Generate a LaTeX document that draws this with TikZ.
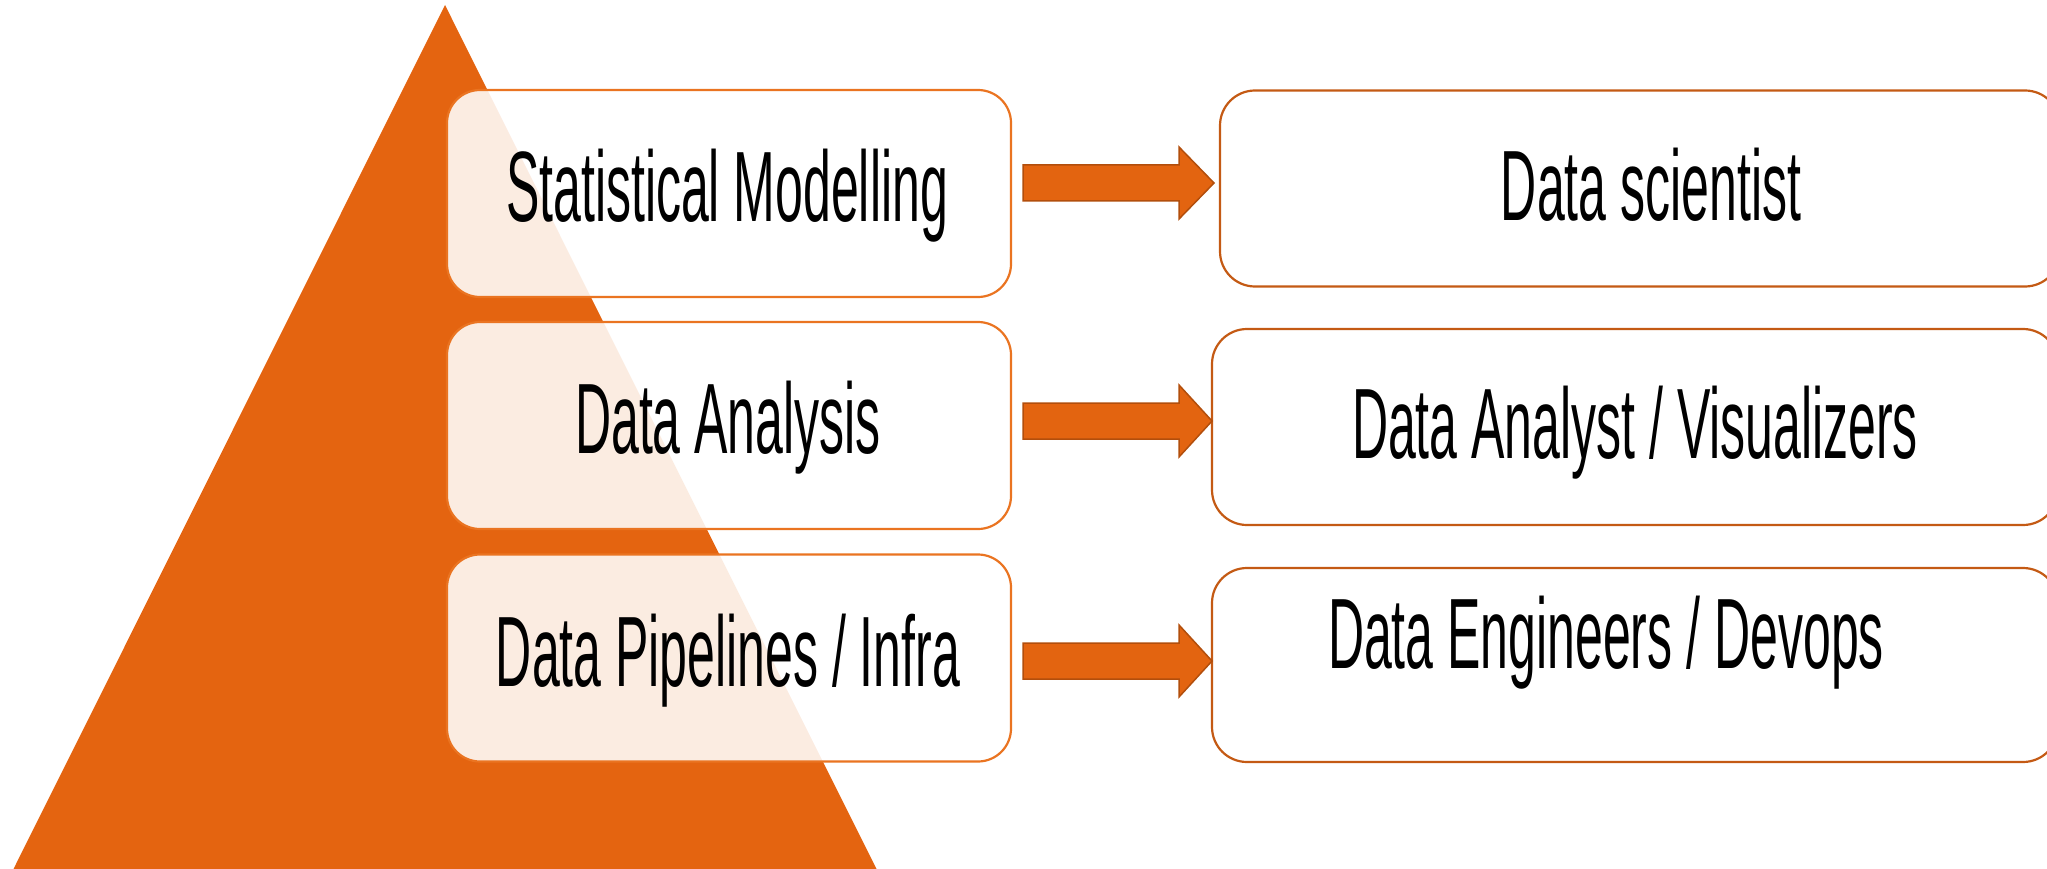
\documentclass[tikz,border=0pt]{standalone}
\usepackage{fontspec}
\newfontfamily\handfont[FakeStretch=0.5]{Liberation Sans}
\definecolor{triorange}{HTML}{E46410}
\definecolor{lborder}{HTML}{EA7421}
\definecolor{rborder}{HTML}{C45A14}
\definecolor{arrfill}{HTML}{E36410}
\definecolor{arrline}{HTML}{B24E0C}
\tikzset{
  lbox/.style={draw=lborder, line width=2.2pt, fill=white, fill opacity=0.88, rounded corners=33pt, minimum width=564pt, minimum height=207pt, inner sep=0pt},
  rbox/.style={draw=rborder, line width=2.2pt, fill=white, rounded corners=35pt, inner sep=0pt},
  lbl/.style={anchor=base, inner sep=0pt, font=\handfont\fontsize{100pt}{110pt}\selectfont, text=black},
  blockarrow/.style={fill=arrfill, draw=arrline, line width=1.5pt, line join=miter}
}
\begin{document}
\begin{tikzpicture}[x=1pt,y=-1pt]
\useasboundingbox (0,0) rectangle (2047,869);
\clip (0,0) rectangle (2047,869);
% pyramid
\fill[triorange] (445,5) -- (878,872) -- (12,872) -- cycle;
% left boxes
\node[lbox] (l1) at (729,193.5) {};
\node[lbox] (l2) at (729,425.5) {};
\node[lbox] (l3) at (729,658) {};
% right boxes
\node[rbox, minimum width=840pt, minimum height=196pt] (r1) at (1640,188.5) {};
\node[rbox, minimum width=846pt, minimum height=196pt] (r2) at (1635,427) {};
\node[rbox, minimum width=846pt, minimum height=194pt] (r3) at (1635,665) {};
% labels
\node[lbl] (t1) at (727,222) {Statistical Modelling};
\node[lbl] (t2) at (728,453) {Data Analysis};
\node[lbl] (t3) at (728,686) {Data Pipelines / Infra};
\node[lbl] (u1) at (1651,221) {Data scientist};
\node[lbl] (u2) at (1635,458) {Data Analyst / Visualizers};
\node[lbl] (u3) at (1606,668) {Data Engineers / Devops};
% block arrows
\draw[blockarrow] (1023,165) -- (1179,165) -- (1179,147) -- (1214,183) -- (1179,219) -- (1179,201) -- (1023,201) -- cycle;
\draw[blockarrow] (1023,403) -- (1179,403) -- (1179,385) -- (1212,421) -- (1179,457) -- (1179,439) -- (1023,439) -- cycle;
\draw[blockarrow] (1023,643) -- (1179,643) -- (1179,625) -- (1212,661) -- (1179,697) -- (1179,679) -- (1023,679) -- cycle;
\end{tikzpicture}
\end{document}
